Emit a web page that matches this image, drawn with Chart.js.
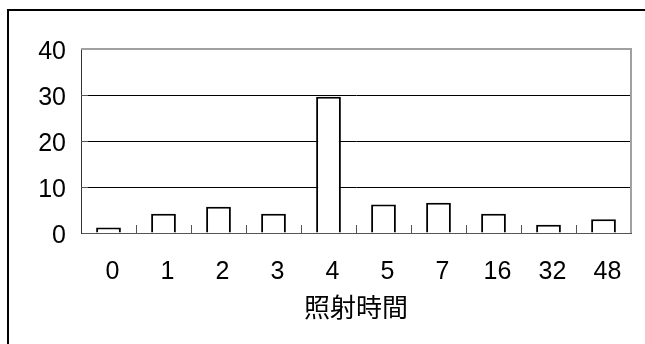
<!DOCTYPE html>
<html>
<head>
<meta charset="utf-8">
<script src="https://cdn.jsdelivr.net/npm/chart.js@4"></script>
<style>
  html, body { margin: 0; padding: 0; background: #fff; }
  #wrap { position: relative; width: 645px; height: 344px; overflow: hidden; }
  #chart { position: absolute; left: 0; top: 0; }
  #frame { position: absolute; left: 7px; top: 9px; width: 700px; height: 400px;
           border-left: 2px solid #000; border-top: 2px solid #000; pointer-events: none; }
</style>
</head>
<body>
<div id="wrap">
  <canvas id="chart" width="645" height="344"></canvas>
  <div id="frame"></div>
</div>
<script>
// irradiation time categories and measured values
const categories = ['0', '1', '2', '3', '4', '5', '7', '16', '32', '48'];
const values = [1.2, 4.2, 5.7, 4.2, 29.6, 6.2, 6.6, 4.2, 1.8, 3.0];
const yMin = 0, yMax = 40, yStep = 10;
const xTitle = '照射時間';

const FONT = "'Liberation Sans', Arial, sans-serif";

// Excel-style plot frame + inside tick marks
const plotFrame = {
  id: 'plotFrame',
  afterDatasetsDraw(chart) {
    const { ctx, chartArea: a, scales: { x, y } } = chart;
    ctx.save();
    ctx.lineWidth = 1;
    // category ticks pointing up from the x axis
    ctx.strokeStyle = '#555';
    ctx.beginPath();
    for (let i = 1; i < categories.length; i++) {
      const px = Math.round((x.getPixelForTick(i - 1) + x.getPixelForTick(i)) / 2) + 0.5;
      ctx.moveTo(px, a.bottom);
      ctx.lineTo(px, a.bottom - 8);
    }
    // value ticks pointing right from the y axis
    for (let v = yMin + yStep; v < yMax; v += yStep) {
      const py = Math.round(y.getPixelForValue(v)) + 0.5;
      ctx.moveTo(a.left, py);
      ctx.lineTo(a.left + 7, py);
    }
    ctx.stroke();
    // top and right border of plot area
    ctx.strokeStyle = '#a0a0a0';
    ctx.lineWidth = 2;
    ctx.beginPath();
    ctx.moveTo(a.left, a.top);
    ctx.lineTo(a.right, a.top);
    ctx.lineTo(a.right, a.bottom);
    ctx.stroke();
    ctx.restore();
  }
};

new Chart(document.getElementById('chart'), {
  type: 'bar',
  data: {
    labels: categories,
    datasets: [{
      data: values,
      backgroundColor: '#fff',
      borderColor: '#000',
      borderWidth: 2,
      barPercentage: 0.45,
      categoryPercentage: 1,
    }],
  },
  options: {
    responsive: false,
    animation: false,
    devicePixelRatio: 1,
    layout: { padding: { top: 49, right: 14, bottom: 21, left: 0 } },
    plugins: { legend: { display: false }, tooltip: { enabled: false } },
    scales: {
      x: {
        afterFit: (s) => { s.height = 90; },
        grid: { display: false, drawTicks: false },
        border: { color: '#555', width: 1 },
        ticks: { color: '#000', padding: 24, labelOffset: 4, font: { family: FONT, size: 25 } },
        title: {
          display: true, text: xTitle, color: '#000', padding: 0,
          font: { family: "'Noto Sans CJK JP', 'Noto Sans CJK SC', sans-serif", size: 26 },
        },
      },
      y: {
        min: yMin, max: yMax,
        afterFit: (s) => { s.width = 81; },
        grid: { color: '#000', lineWidth: 1, drawTicks: false },
        border: { color: '#333', width: 1 },
        ticks: { stepSize: yStep, color: '#000', padding: 15, labelOffset: 3, font: { family: FONT, size: 25 } },
      },
    },
  },
  plugins: [plotFrame],
});
</script>
</body>
</html>
